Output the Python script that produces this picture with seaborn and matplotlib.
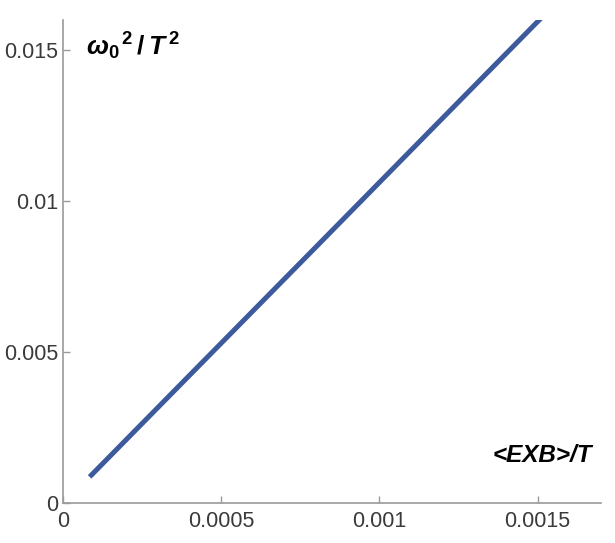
import matplotlib
matplotlib.use("Agg")
import matplotlib.pyplot as plt
import seaborn as sns
import pandas as pd

# values
exb_over_t = [0.000085, 0.0004, 0.0008, 0.0012, 0.00152]
omega_sq_over_t_sq = [0.00086, 0.00422, 0.00848, 0.01275, 0.01616]
x_ticks = [0, 0.0005, 0.001, 0.0015]
x_tick_labels = ["0", "0.0005", "0.001", "0.0015"]
y_ticks = [0, 0.005, 0.01, 0.015]
y_tick_labels = ["0", "0.005", "0.01", "0.015"]

sns.set_style("ticks")
plt.rcParams['font.family'] = ['Liberation Sans', 'DejaVu Sans']
plt.rcParams['mathtext.fontset'] = 'custom'
plt.rcParams['mathtext.it'] = 'Liberation Sans:italic:bold'
plt.rcParams['mathtext.rm'] = 'Liberation Sans:bold'
plt.rcParams['mathtext.bf'] = 'Liberation Sans:bold'

df = pd.DataFrame({"x": exb_over_t, "y": omega_sq_over_t_sq})

fig = plt.figure(figsize=(6.15, 5.43), dpi=100, facecolor='white')
ax = fig.add_axes([0.102, 0.074, 0.875, 0.889])
sns.lineplot(data=df, x="x", y="y", ax=ax, color='#3d5a9c', linewidth=3.6,
             solid_capstyle='butt')

ax.set_xlim(0, 0.0017)
ax.set_ylim(0, 0.0160)
ax.set_xticks(x_ticks)
ax.set_xticklabels(x_tick_labels)
ax.set_yticks(y_ticks)
ax.set_yticklabels(y_tick_labels)
ax.set_xlabel("")
ax.set_ylabel("")

for side in ['top', 'right']:
    ax.spines[side].set_visible(False)
for side in ['left', 'bottom']:
    ax.spines[side].set_color('#9a9a9a')
    ax.spines[side].set_linewidth(1.2)
ax.tick_params(direction='in', length=5, width=1, color='#9a9a9a',
               labelsize=15.5, labelcolor='#3a3a3a')
ax.tick_params(axis='x', pad=6)
ax.tick_params(axis='y', pad=3)

ax.text(0.043, 0.945, r'$\omega_0{}^{\,2}\,/\,T^{\,2}$', transform=ax.transAxes,
        fontsize=19, ha='left', va='center', color='black')
ax.text(0.983, 0.099, '<EXB>/T', transform=ax.transAxes, fontsize=17.5,
        fontweight='bold', style='italic', ha='right', va='center', color='black')

fig.savefig("out.png", dpi=100)
